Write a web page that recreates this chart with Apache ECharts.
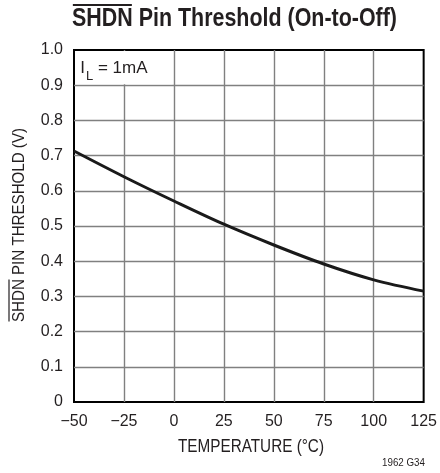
<!DOCTYPE html>
<html>
<head>
<meta charset="utf-8">
<script src="https://cdn.jsdelivr.net/npm/echarts@6/dist/echarts.min.js"></script>
<style>
html,body{margin:0;padding:0;background:#fff;}
#chart{width:440px;height:473px;}
</style>
</head>
<body>
<div id="chart"></div>
<script>
// Data
var temperatures = [-50, -25, 0, 25, 50, 75, 100, 125];
var thresholds = [0.713, 0.640, 0.571, 0.505, 0.446, 0.392, 0.347, 0.315];
var xTicks = {min: -50, max: 125, interval: 25};
var yTicks = {min: 0, max: 1.0, interval: 0.1};
var titlePrefix = 'SHDN';
var titleRest = ' Pin Threshold (On-to-Off)';
var yNamePrefix = 'SHDN';
var yNameRest = ' PIN THRESHOLD (V)';
var xName = 'TEMPERATURE (°C)';
var noteText = '1962 G34';

var FAM = '"Liberation Sans", Arial, sans-serif';
var INK = '#231f20';

function measure(text, font) {
  var c = document.createElement('canvas').getContext('2d');
  c.font = font;
  return c.measureText(text).width;
}

// condensed look: horizontal scale to the target widths seen in the reference
var titleFont = 'bold 25px ' + FAM;
var titleFullW = measure(titlePrefix + titleRest, titleFont);
var titlePrefW = measure(titlePrefix, titleFont);
var titleScale = 325 / titleFullW;

var yFont = '17px ' + FAM;
var yFullW = measure(yNamePrefix + yNameRest, yFont);
var yPrefW = measure(yNamePrefix, yFont);
var yScale = 194 / yFullW;

var xFont = '18px ' + FAM;
var xScale = 146 / measure(xName, xFont);

var noteFont = '11px ' + FAM;
var noteScale = 43 / measure(noteText, noteFont);

var chart = echarts.init(document.getElementById('chart'), null, {renderer: 'canvas'});

var pts = temperatures.map(function (t, i) { return [t, thresholds[i]]; });

function minusFmt(v) {
  return v < 0 ? '\u2212' + Math.abs(v) : String(v);
}

var option = {
  backgroundColor: '#fff',
  animation: false,
  grid: {
    left: 74, right: 14, top: 50, bottom: 71,
    show: true, borderColor: '#000', borderWidth: 2, backgroundColor: 'transparent'
  },
  xAxis: {
    type: 'value',
    min: xTicks.min, max: xTicks.max, interval: xTicks.interval,
    axisLine: {show: false},
    axisTick: {show: false},
    axisLabel: {
      fontFamily: FAM, fontSize: 16, color: INK, margin: 12,
      formatter: minusFmt
    },
    splitLine: {show: true, showMinLine: false, showMaxLine: false,
      lineStyle: {color: '#808080', width: 1.4}}
  },
  yAxis: {
    type: 'value',
    min: yTicks.min, max: yTicks.max, interval: yTicks.interval,
    axisLine: {show: false},
    axisTick: {show: false},
    axisLabel: {
      fontFamily: FAM, fontSize: 16, color: INK, margin: 11,
      formatter: function (v) { return v === 0 ? '0' : v.toFixed(1); }
    },
    splitLine: {show: true, showMinLine: false, showMaxLine: false,
      lineStyle: {color: '#808080', width: 1.4}}
  },
  series: [{
    type: 'line',
    data: pts,
    smooth: 0.35,
    showSymbol: false,
    lineStyle: {color: '#1a1a1a', width: 3},
    z: 5,
    markArea: {
      silent: true,
      itemStyle: {color: '#fff', borderWidth: 0},
      label: {
        show: true,
        position: [5, 9],
        formatter: '{a|I}{s|L}{a| = 1mA}',
        rich: {
          a: {fontFamily: FAM, fontSize: 17, lineHeight: 17, color: INK, verticalAlign: 'top'},
          s: {fontFamily: FAM, fontSize: 13, lineHeight: 13, color: INK, verticalAlign: 'top', padding: [10, 0, 0, 1]}
        }
      },
      data: [[{xAxis: -49.4, yAxis: 0.997}, {xAxis: -0.7, yAxis: 0.903}]]
    }
  }],
  graphic: [
    {
      type: 'group', x: 72, y: 19, scaleX: titleScale,
      children: [
        {
          type: 'text', x: 0, y: 0,
          style: {text: titlePrefix + titleRest, font: titleFont, fill: INK, align: 'left', verticalAlign: 'middle'}
        },
        {
          type: 'line',
          shape: {x1: 1, y1: -14, x2: titlePrefW - 1, y2: -14},
          style: {stroke: INK, lineWidth: 2}
        }
      ]
    },
    {
      type: 'group', x: 19, y: 225, rotation: Math.PI / 2, scaleX: yScale,
      children: [
        {
          type: 'text', x: 0, y: 0,
          style: {text: yNamePrefix + yNameRest, font: yFont, fill: INK, align: 'center', verticalAlign: 'middle'}
        },
        {
          type: 'line',
          shape: {x1: -yFullW / 2 + 0.5, y1: -10, x2: -yFullW / 2 + yPrefW - 0.5, y2: -10},
          style: {stroke: INK, lineWidth: 1.2}
        }
      ]
    },
    {
      type: 'text', x: 251, y: 447, scaleX: xScale,
      style: {text: xName, font: xFont, fill: INK, align: 'center', verticalAlign: 'middle'}
    },
    {
      type: 'text', x: 425, y: 463, scaleX: noteScale,
      style: {text: noteText, font: noteFont, fill: INK, align: 'right', verticalAlign: 'middle'}
    }
  ]
};
chart.setOption(option);
</script>
</body>
</html>
